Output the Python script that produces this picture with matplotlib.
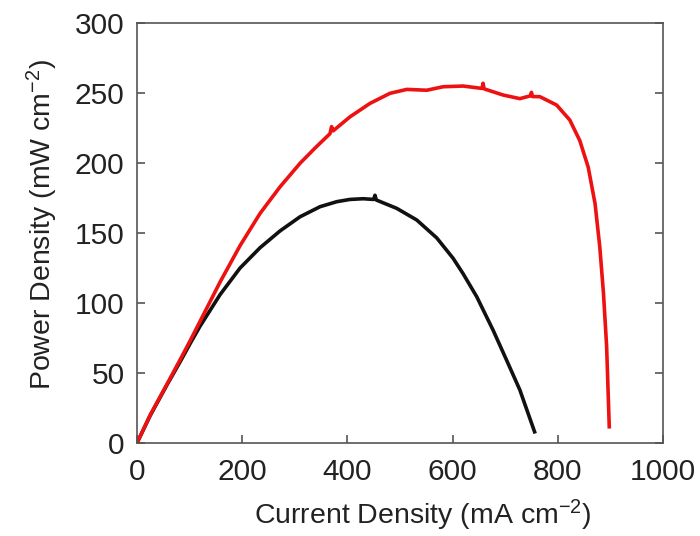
import numpy as np
import matplotlib
matplotlib.use("Agg")
import matplotlib.pyplot as plt

plt.rcParams['font.family'] = ['Liberation Sans', 'DejaVu Sans']
plt.rcParams['mathtext.default'] = 'regular'

# black curve
j_black = [0, 25, 57, 82, 101, 120, 158, 196, 234, 272, 310, 348, 380, 405, 430,
           450, 452.5, 455, 494, 532, 570, 601, 620, 646, 677, 703, 728, 756]
p_black = [0, 19.5, 41.5, 58, 71, 83.5, 106, 125, 139.5, 151.5, 161.6, 168.8, 172.4,
           174, 174.5, 174, 177, 173.6, 167.6, 159.3, 146.5, 132, 121, 104.5, 80.7,
           59, 37.9, 8]

# red curve
j_red = [0, 25, 57, 82, 101, 120, 158, 196, 234, 272, 310, 338, 367, 370, 373, 405,
         443, 481, 513, 551, 582, 620, 656, 658, 660, 696, 728, 748, 750, 752, 766,
         798, 823, 842, 858, 871, 880, 887, 893, 898]
p_red = [0, 20, 42, 59.5, 73, 87, 115, 141, 164, 183, 199.8, 210.5, 221, 226, 223,
         233, 242.6, 249.8, 252.6, 252, 254.5, 255, 253.3, 257, 253, 248.6, 246, 248,
         250.5, 247.5, 247.4, 241.4, 230.7, 216, 197, 171, 140, 107, 69, 11.6]

fig = plt.figure(figsize=(7, 5.36), dpi=100)
ax = fig.add_axes([0.1957, 0.1735, 0.7513, 0.7835])

ax.plot(j_black, p_black, color='#111111', lw=2.6, solid_joinstyle='round')
ax.plot(j_red, p_red, color='#ee1111', lw=2.6, solid_joinstyle='round')

ax.set_xlim(0, 1000)
ax.set_ylim(0, 300)
ax.set_xticks([0, 200, 400, 600, 800, 1000])
ax.set_yticks([0, 50, 100, 150, 200, 250, 300])

for s in ax.spines.values():
    s.set_color('#555555')
    s.set_linewidth(1.2)

ax.tick_params(direction='in', length=6, width=1.2, color='#555555',
               labelsize=21.5, labelcolor='#222222', right=True, top=False)
ax.tick_params(axis='x', pad=11)
ax.tick_params(axis='y', pad=9)

ax.set_xlabel('Current Density (mA cm$^{-2}$)', fontsize=20.5, color='#222222')
ax.set_ylabel('Power Density (mW cm$^{-2}$)', fontsize=20.5, color='#222222')
ax.xaxis.set_label_coords(0.544, -0.13)
ax.yaxis.set_label_coords(-0.146, 0.52)

fig.savefig('out.png', dpi=100)
